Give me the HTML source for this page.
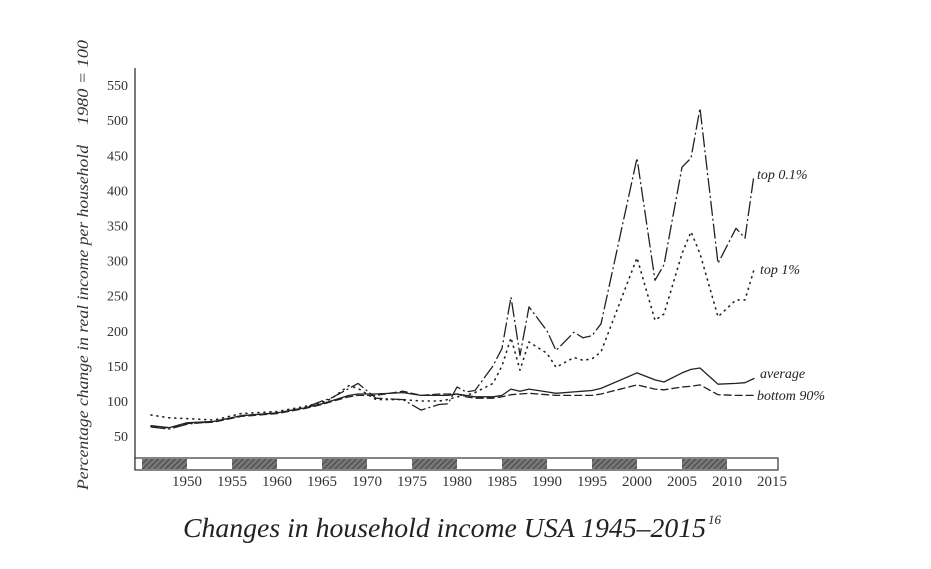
<!DOCTYPE html>
<html><head><meta charset="utf-8"><style>
body{margin:0;background:#fff;}
svg{display:block;font-family:"Liberation Serif",serif;}
</style></head><body>
<svg id="chart" width="931" height="569" viewBox="0 0 931 569">
<defs><pattern id="hatch" width="4" height="4" patternUnits="userSpaceOnUse" patternTransform="rotate(45)"><rect width="4" height="4" fill="#777"/><line x1="0" y1="0" x2="0" y2="4" stroke="#444" stroke-width="2"/></pattern></defs>
<g id="axes"></g>
<g id="series"></g>
<text x="0" y="0" transform="translate(88,490) rotate(-90)" font-style="italic" font-size="16" fill="#333" textLength="345" lengthAdjust="spacingAndGlyphs">Percentage change in real income per household</text>
<text x="0" y="0" transform="translate(88,125) rotate(-90)" font-style="italic" font-size="16" fill="#333" textLength="85" lengthAdjust="spacingAndGlyphs">1980 = 100</text>
<text x="183" y="537" font-style="italic" font-size="27" fill="#222" textLength="523" lengthAdjust="spacingAndGlyphs">Changes in household income USA 1945–2015</text>
<text x="708" y="524" font-style="italic" font-size="13" fill="#222">16</text>
<text x="757" y="179" font-style="italic" font-size="14" fill="#222">top 0.1%</text>
<text x="760" y="274" font-style="italic" font-size="14" fill="#222">top 1%</text>
<text x="760" y="378" font-style="italic" font-size="14" fill="#222">average</text>
<text x="757" y="400" font-style="italic" font-size="14" fill="#222">bottom 90%</text>
</svg>
<script>
const years=[1946,1948,1950,1953,1956,1960,1963,1965,1966,1968,1969,1971,1974,1976,1978,1979,1980,1981,1982,1984,1985,1986,1987,1988,1990,1991,1993,1994,1995,1996,2000,2002,2003,2005,2006,2007,2009,2011,2012,2013];
const top01=[63,60,67,71,79,83,90,100,104,118,125,104,102,87,95,96,120,113,115,150,175,248,165,234,200,172,198,190,193,210,446,272,294,433,446,517,296,346,332,422];
const top1=[80,76,75,73,82,85,92,98,103,122,118,102,102,100,100,102,106,108,112,125,150,190,144,184,168,148,162,158,160,170,304,215,224,310,341,310,220,244,244,287];
const average=[65,62,69,71,79,83,90,96,100,108,110,110,112,108,108,108,110,108,106,106,108,117,114,117,113,111,113,114,115,118,140,130,127,140,145,147,124,125,126,132];
const bottom90=[64,62,68,70,78,82,89,95,99,106,108,108,114,108,110,110,110,106,104,104,106,109,110,111,109,108,108,108,108,110,123,117,116,120,121,123,109,108,108,108];
const yTicks=[50,100,150,200,250,300,350,400,450,500,550];
const xTicks=[1950,1955,1960,1965,1970,1975,1980,1985,1990,1995,2000,2005,2010,2015];
const NS="http://www.w3.org/2000/svg";
const X=y=>142+(y-1945)*9;
const Y=v=>401-(v-100)*0.702;
const ax=document.getElementById('axes'), sg=document.getElementById('series');
function mk(tag,attrs,parent){const e=document.createElementNS(NS,tag);for(const k in attrs)e.setAttribute(k,attrs[k]);parent.appendChild(e);return e;}
let l=mk('line',{x1:135,y1:68,x2:135,y2:470,stroke:'#333','stroke-width':1.3},ax);


let bar=mk('rect',{x:135,y:458,width:643,height:12,fill:'#fff',stroke:'#333','stroke-width':1.2},ax);


for(let d=1945;d<2015;d+=10){const r=mk('rect',{x:X(d),y:459,width:X(d+5)-X(d),height:10,fill:'url(#hatch)'},ax);

}
yTicks.forEach(v=>{const t=mk('text',{x:128,y:Y(v)+5,'text-anchor':'end','font-size':14,fill:'#333'},ax);t.textContent=v;

});
xTicks.forEach(v=>{const t=mk('text',{x:X(v),y:486,'text-anchor':'middle','font-size':15,fill:'#333'},ax);t.textContent=v;

});
function line(vals,dash,name,extra){let d=years.map((y,i)=>(i?'L':'M')+X(y).toFixed(1)+','+Y(vals[i]).toFixed(1)).join(' ');if(extra)d+=extra;
const p=mk('path',{d:d,fill:'none',stroke:'#222','stroke-width':dash==='1 5'?1.6:1.3,'stroke-dasharray':dash,'stroke-linecap':'round','stroke-linejoin':'round'},sg);

}
line(top01,'14 4 1 4','line-top-01');
line(top1,'1 5','line-top-1');
line(average,'','line-average');
line(bottom90,'7 4','line-bottom-90',' L753,'+Y(108).toFixed(1));
</script>
</body></html>
